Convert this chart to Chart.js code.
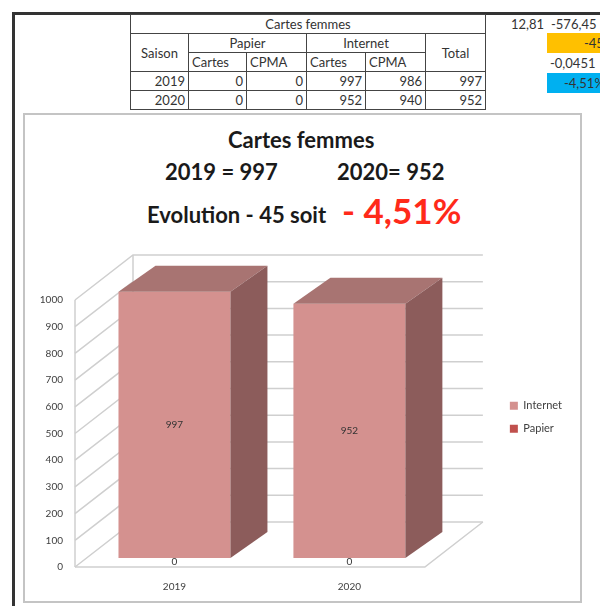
<!DOCTYPE html>
<html>
<head>
<meta charset="utf-8">
<script src="https://cdn.jsdelivr.net/npm/chart.js@4/dist/chart.umd.min.js"></script>
<style>
html { overflow: hidden; }
body { margin: 0; width: 600px; height: 606px; overflow: hidden; position: relative; background: #fff; font-family: Lato, "Open Sans", sans-serif; color: #333; }
.frame-top { position: absolute; left: 12px; top: 12px; width: 585px; height: 591px; border-top: 3px solid #333; border-left: 3px solid #333; }
table.sheet { position: absolute; left: 130px; top: 14px; border-collapse: collapse; font-size: 13px; table-layout: fixed; }
table.sheet td { border: 1px solid #444; height: 18px; padding: 0 3px; white-space: nowrap; line-height: 18px; overflow: hidden; }
td.c { text-align: center; }
td.r { text-align: right; }
.clip { position: absolute; left: 488px; top: 14px; width: 112px; height: 90px; overflow: hidden; }
.cell { position: absolute; font-size: 13px; height: 20px; line-height: 20px; text-align: right; white-space: nowrap; }
.box { position: absolute; left: 23px; top: 113px; width: 555px; height: 486px; border: 2px solid #c4c4c4; }
.t { position: absolute; font-weight: bold; color: #1a1a1a; white-space: nowrap; }
#wrap { position: absolute; left: 24px; top: 245px; width: 554px; height: 355px; }
</style>
</head>
<body>
<div class="frame-top"></div>
<table class="sheet" id="sheet">
  <colgroup><col style="width:58px"><col style="width:58px"><col style="width:60px"><col style="width:59px"><col style="width:60px"><col style="width:60px"></colgroup>
  <tr><td class="c" colspan="6">Cartes femmes</td></tr>
  <tr><td class="c" rowspan="2">Saison</td><td class="c" colspan="2">Papier</td><td class="c" colspan="2">Internet</td><td class="c" rowspan="2">Total</td></tr>
  <tr><td>Cartes</td><td>CPMA</td><td>Cartes</td><td>CPMA</td></tr>
</table>
<div class="clip">
  <div class="cell" style="left:6px;top:0px;width:50px">12,81</div>
  <div class="cell" style="left:63px;top:0px;width:70px;text-align:left">-576,45</div>
  <div class="cell" style="left:59px;top:19px;width:60px;background:#ffc000;text-align:left;padding-left:37px">-45</div>
  <div class="cell" style="left:42px;top:39px;width:70px;text-align:left;padding-left:20px">-0,0451</div>
  <div class="cell" style="left:59px;top:59px;width:60px;background:#00b0f0;text-align:left;padding-left:17px">-4,51%</div>
</div>

<div class="box"></div>
<div class="t" style="left:228px;top:126px;font-size:22px">Cartes femmes</div>
<div class="t" style="left:165px;top:158px;font-size:22px">2019 = 997</div>
<div class="t" style="left:337px;top:158px;font-size:22px">2020= 952</div>
<div class="t" style="left:147px;top:201px;font-size:22px">Evolution - 45 soit</div>
<div class="t" style="left:342px;top:189px;font-size:35px;color:#ff2a1a">- 4,51%</div>

<div id="wrap"><canvas id="chart"></canvas></div>

<script>
var seasons = ['2019', '2020'];
var papierCartes = [0, 0];
var papierCPMA = [0, 0];
var internetCartes = [997, 952];
var internetCPMA = [986, 940];
var totals = [997, 952];
var yMax = 1000;
var yStep = 100;

// table rows
var sheet = document.getElementById('sheet');
for (var i = 0; i < seasons.length; i++) {
	var tr = document.createElement('tr');
	[seasons[i], papierCartes[i], papierCPMA[i], internetCartes[i], internetCPMA[i], totals[i]].forEach(function(v) {
		var td = document.createElement('td');
		td.className = 'r';
		td.textContent = v;
		tr.appendChild(td);
	});
	sheet.appendChild(tr);
}

// fake 3d : depth of bars and of the walls
var bar3d = { dx: 37, dy: -26 };
var wall3d = { ox: -12, oy: 9, dx: 58, dy: -45 };

var box3d = {
	id: 'box3d',
	beforeDatasetsDraw: function(chart) {
		var ctx = chart.ctx;
		var area = chart.chartArea;
		var y = chart.scales.y;
		var fl = area.left + wall3d.ox;
		var fr = area.right + wall3d.ox;
		var p0 = y.getPixelForValue(0) + wall3d.oy;
		var pTop = y.getPixelForValue(yMax) + wall3d.oy;
		ctx.save();
		ctx.strokeStyle = '#cfcfcf';
		ctx.lineWidth = 1.5;
		y.ticks.forEach(function(t) {
			var py = y.getPixelForValue(t.value) + wall3d.oy;
			ctx.beginPath();
			ctx.moveTo(fl, py);
			ctx.lineTo(fl + wall3d.dx, py + wall3d.dy);
			ctx.lineTo(fr + wall3d.dx, py + wall3d.dy);
			ctx.stroke();
		});
		// floor
		ctx.beginPath();
		ctx.moveTo(fl, p0);
		ctx.lineTo(fr, p0);
		ctx.lineTo(fr + wall3d.dx, p0 + wall3d.dy);
		ctx.stroke();
		// wall edges
		ctx.beginPath();
		ctx.moveTo(fl, p0);
		ctx.lineTo(fl, pTop);
		ctx.moveTo(fl + wall3d.dx, p0 + wall3d.dy);
		ctx.lineTo(fl + wall3d.dx, pTop + wall3d.dy);
		ctx.stroke();
		ctx.restore();
	},
	afterDatasetsDraw: function(chart) {
		var ctx = chart.ctx;
		ctx.save();
		chart.data.datasets.forEach(function(ds, di) {
			var meta = chart.getDatasetMeta(di);
			meta.data.forEach(function(el, i) {
				var l = el.x - el.width / 2, r = el.x + el.width / 2;
				if (el.base - el.y > 0.5) {
					ctx.fillStyle = ds.topColor;
					ctx.beginPath();
					ctx.moveTo(l, el.y);
					ctx.lineTo(l + bar3d.dx, el.y + bar3d.dy);
					ctx.lineTo(r + bar3d.dx, el.y + bar3d.dy);
					ctx.lineTo(r, el.y);
					ctx.closePath();
					ctx.fill();
					ctx.fillStyle = ds.sideColor;
					ctx.beginPath();
					ctx.moveTo(r, el.y);
					ctx.lineTo(r + bar3d.dx, el.y + bar3d.dy);
					ctx.lineTo(r + bar3d.dx, el.base + bar3d.dy);
					ctx.lineTo(r, el.base);
					ctx.closePath();
					ctx.fill();
				}
			});
		});
		// value labels
		ctx.fillStyle = '#333';
		ctx.font = '10px Lato, sans-serif';
		ctx.textAlign = 'center';
		ctx.textBaseline = 'middle';
		chart.data.datasets.forEach(function(ds, di) {
			chart.getDatasetMeta(di).data.forEach(function(el, i) {
				var v = ds.data[i];
				var ly = v === 0 ? el.base + 4 : (el.y + el.base) / 2;
				ctx.fillText(String(v), el.x, ly);
			});
		});
		ctx.restore();
	}
};

new Chart(document.getElementById('chart'), {
	type: 'bar',
	data: {
		labels: seasons,
		datasets: [
			{
				label: 'Papier',
				data: papierCartes,
				backgroundColor: '#c0504d',
				topColor: '#9e4240',
				sideColor: '#7e3533',
				yAxisID: 'y'
			},
			{
				label: 'Internet',
				data: internetCartes,
				backgroundColor: '#d4918f',
				topColor: '#a87472',
				sideColor: '#8c5c5b',
				yAxisID: 'y'
			}
		]
	},
	options: {
		responsive: true,
		maintainAspectRatio: false,
		animation: false,
		layout: { padding: { top: 46, right: 6, left: 0, bottom: 0 } },
		datasets: { bar: { categoryPercentage: 1, barPercentage: 0.64 } },
		plugins: {
			legend: {
				position: 'right',
				reverse: true,
				align: 'start',
				title: { display: true, text: ' ', padding: { top: 42, bottom: 42 }, font: { size: 11 } },
				labels: {
					boxWidth: 8,
					boxHeight: 8,
					padding: 12,
					color: '#404040',
					font: { family: 'Lato', size: 11 }
				}
			},
			tooltip: { enabled: false }
		},
		scales: {
			x: {
				stacked: true,
				grid: { display: false, drawTicks: false },
				border: { display: false },
				ticks: { color: '#404040', font: { family: 'Lato', size: 10 }, padding: 23 },
				afterFit: function(s) { s.height = 42; }
			},
			y: {
				stacked: true,
				min: 0,
				max: yMax,
				grid: { display: false, drawTicks: false },
				border: { display: false },
				ticks: {
					stepSize: yStep, color: '#404040', font: { family: 'Lato', size: 10 }, padding: 24, labelOffset: 9,
					callback: function(v) { return String(v); }
				},
				afterFit: function(s) { s.width = 63; }
			},
			yR: {
				position: 'right',
				grid: { display: false, drawTicks: false },
				border: { display: false },
				ticks: { display: false },
				afterFit: function(s) { s.width = 61; }
			}
		}
	},
	plugins: [box3d]
});
</script>
</body>
</html>
